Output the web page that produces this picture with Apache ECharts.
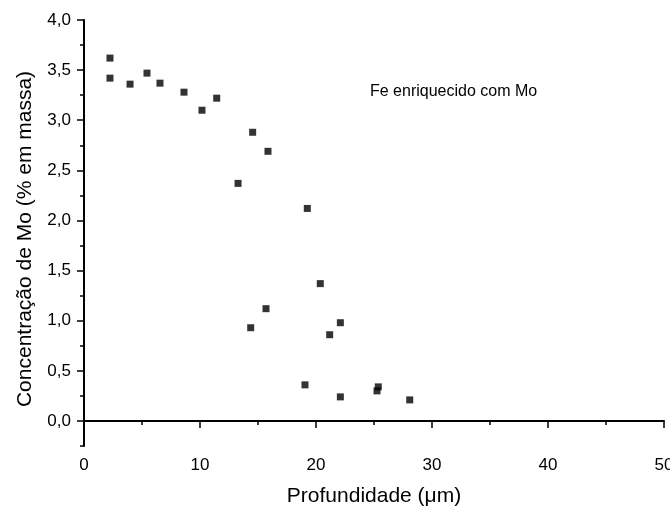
<!DOCTYPE html>
<html>
<head>
<meta charset="utf-8">
<script src="https://cdn.jsdelivr.net/npm/echarts@6/dist/echarts.min.js"></script>
<style>
  html, body { margin: 0; padding: 0; background: #fff; }
  #chart { width: 670px; height: 512px; }
</style>
</head>
<body>
<div id="chart"></div>
<script>
// profundidade (µm) e concentração de Mo (% em massa)
const depth = [2.24, 2.24, 3.97, 5.43, 6.55, 8.62, 10.17, 11.44, 14.54, 15.86, 13.28,
               19.25, 20.37, 15.69, 14.37, 22.10, 21.18, 19.05, 22.10, 25.37, 25.26, 28.08];
const moConc = [3.62, 3.42, 3.36, 3.47, 3.37, 3.28, 3.10, 3.22, 2.88, 2.69, 2.37,
                2.12, 1.37, 1.12, 0.93, 0.98, 0.86, 0.36, 0.24, 0.34, 0.30, 0.21];
const yTicks = [0, 0.5, 1.0, 1.5, 2.0, 2.5, 3.0, 3.5, 4.0];
const xTicks = [0, 10, 20, 30, 40, 50];

const font = 'Arial, "Liberation Sans", sans-serif';
const black = '#000';

const chart = echarts.init(document.getElementById('chart'));
chart.setOption({
  animation: false,
  backgroundColor: '#fff',
  textStyle: { fontFamily: font, color: black },
  grid: { left: 84, right: 6, top: 20, bottom: 66, outerBoundsMode: 'none', containLabel: false },
  graphic: [{
    type: 'text',
    left: 370,
    top: 84,
    style: { text: 'Fe enriquecido com Mo', font: '16px ' + font, fill: black }
  }],
  xAxis: {
    type: 'value',
    min: xTicks[0],
    max: xTicks[xTicks.length - 1],
    interval: 10,
    name: 'Profundidade (\u03bcm)',
    nameLocation: 'middle',
    nameGap: 40,
    nameTextStyle: { fontSize: 21, color: black },
    axisLine: { lineStyle: { color: black, width: 2 } },
    axisTick: { length: 7, lineStyle: { color: black, width: 1.5 } },
    minorTick: { show: true, splitNumber: 2, length: 4, lineStyle: { color: black, width: 1.5 } },
    axisLabel: { fontSize: 17, color: black, margin: 11 },
    splitLine: { show: false }
  },
  yAxis: [{
    type: 'value',
    min: -0.25,
    max: 4,
    interval: 0.25,
    name: 'Concentração de Mo (% em massa)',
    nameLocation: 'middle',
    nameGap: 48,
    nameTextStyle: { fontSize: 21, color: black, padding: [0, 12, 0, 0] },
    axisLine: { lineStyle: { color: black, width: 2 } },
    axisTick: { length: 7, customValues: yTicks, lineStyle: { color: black, width: 1.5 } },
    axisLabel: {
      fontSize: 17, color: black, margin: 13,
      customValues: yTicks,
      formatter: v => v.toFixed(1).replace('.', ',')
    },
    splitLine: { show: false }
  }, {
    // ticks menores
    type: 'value',
    position: 'left',
    min: -0.25,
    max: 4,
    interval: 0.25,
    axisLine: { show: false },
    axisTick: { length: 4, lineStyle: { color: black, width: 1.5 } },
    axisLabel: { show: false },
    splitLine: { show: false }
  }],
  series: [{
    type: 'scatter',
    symbol: 'rect',
    symbolSize: 7,
    itemStyle: { color: black },
    data: depth.map((d, i) => [d, moConc[i]])
  }]
});
</script>
</body>
</html>
